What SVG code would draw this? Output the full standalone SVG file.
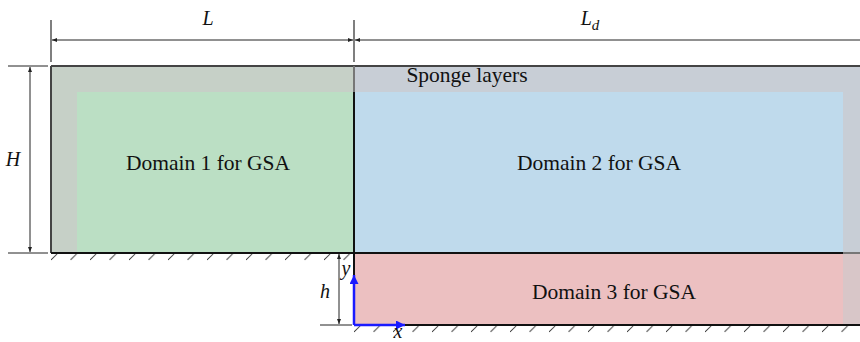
<svg xmlns="http://www.w3.org/2000/svg" width="860" height="342" viewBox="0 0 860 342">
<defs>
<marker id="ah" viewBox="0 0 10 10" refX="10" refY="5" markerWidth="7" markerHeight="5" orient="auto-start-reverse" markerUnits="userSpaceOnUse"><path d="M0,1 L10,5 L0,9 z" fill="#222"/></marker>
<marker id="ab" viewBox="0 0 10 10" refX="10" refY="5" markerWidth="14" markerHeight="9" orient="auto" markerUnits="userSpaceOnUse"><path d="M0,0 L10,5 L0,10 z" fill="#1a1aff"/></marker>
<pattern id="hatch" x="51" y="253" width="19.5" height="10" patternUnits="userSpaceOnUse"><line x1="0" y1="7" x2="6" y2="1" stroke="#333" stroke-width="1"/></pattern>
<pattern id="hatch2" x="354" y="325" width="19.5" height="10" patternUnits="userSpaceOnUse"><line x1="0" y1="7" x2="6" y2="1" stroke="#333" stroke-width="1"/></pattern>
</defs>
<style>
.lbl{font-family:"Liberation Serif","Times New Roman",serif;font-size:21.5px;fill:#111;text-anchor:middle}
.it{font-family:"Liberation Serif","Times New Roman",serif;font-size:20px;font-style:italic;fill:#111;text-anchor:middle}
.dim{stroke:#222;stroke-width:1;fill:none}
.ext{stroke:#555;stroke-width:1.5;fill:none}
</style>
<g id="sponge">
<rect x="51" y="66" width="809" height="187" fill="#c8ced6"/>
<rect x="51" y="66" width="303" height="187" fill="#c6d0c7"/>
<rect x="843" y="253" width="17" height="72" fill="#d8c6c8"/>
<text class="lbl" x="467" y="82">Sponge layers</text>
</g>
<g id="domain1">
<rect x="77" y="92" width="277" height="161" fill="#bbdfc4"/>
<text class="lbl" x="208" y="170">Domain 1 for GSA</text>
</g>
<g id="domain2">
<rect x="354" y="92" width="489" height="161" fill="#bfdaec"/>
<text class="lbl" x="599" y="170">Domain 2 for GSA</text>
</g>
<g id="domain3">
<rect x="354" y="253" width="489" height="72" fill="#ecc0c1"/>
<text class="lbl" x="614" y="299">Domain 3 for GSA</text>
</g>
<g id="walls">
<rect x="51" y="254" width="303" height="9" fill="url(#hatch)"/>
<rect x="354" y="326" width="506" height="9" fill="url(#hatch2)"/>
<line x1="51" y1="66" x2="860" y2="66" stroke="#444" stroke-width="2"/>
<line x1="51" y1="66" x2="51" y2="253" stroke="#444" stroke-width="2"/>
<line x1="354" y1="66" x2="354" y2="92" stroke="#777" stroke-width="2"/>
<line x1="354" y1="92" x2="354" y2="325" stroke="#111" stroke-width="2"/>
<line x1="51" y1="253" x2="843" y2="253" stroke="#111" stroke-width="2"/>
<line x1="843" y1="253" x2="860" y2="253" stroke="#777" stroke-width="2"/>
<line x1="354" y1="325" x2="860" y2="325" stroke="#111" stroke-width="2"/>
</g>
<g id="connectors">
<line class="ext" x1="51" y1="20" x2="51" y2="62"/>
<line class="ext" x1="354" y1="20" x2="354" y2="62"/>
<line class="dim" x1="52" y1="40" x2="353" y2="40" marker-start="url(#ah)" marker-end="url(#ah)"/>
<line class="dim" x1="355" y1="40" x2="860" y2="40" marker-start="url(#ah)" stroke="#555"/>
<line class="dim" x1="8" y1="66" x2="48" y2="66"/>
<line class="dim" x1="8" y1="253" x2="48" y2="253"/>
<line class="dim" x1="30" y1="67" x2="30" y2="252" marker-start="url(#ah)" marker-end="url(#ah)"/>
<line class="dim" x1="320" y1="325" x2="352" y2="325" stroke="#555"/>
<line class="dim" x1="339" y1="254" x2="339" y2="324" marker-start="url(#ah)" marker-end="url(#ah)"/>
<line x1="354" y1="325" x2="354" y2="275" stroke="#1a1aff" stroke-width="2.5" marker-end="url(#ab)"/>
<line x1="354" y1="325" x2="405" y2="325" stroke="#1a1aff" stroke-width="2.5" marker-end="url(#ab)"/>
</g>
<g id="labels">
<text class="it" x="208" y="25">L</text>
<text class="it" x="590" y="25">L<tspan font-size="15" dy="5">d</tspan></text>
<text class="it" x="13" y="166">H</text>
<text class="it" x="325" y="298">h</text>
<text class="it" x="346" y="275">y</text>
<text class="it" x="398" y="338">x</text>
</g>
</svg>
